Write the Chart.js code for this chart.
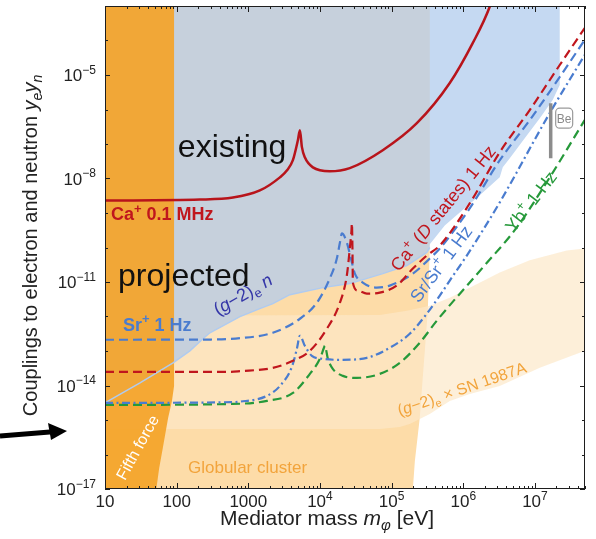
<!DOCTYPE html>
<html>
<head>
<meta charset="utf-8">
<script src="https://cdn.jsdelivr.net/npm/chart.js@4.4.1/dist/chart.umd.min.js"></script>
<style>
  html, body { margin: 0; padding: 0; background: #fff; }
  canvas { display: block; }
</style>
</head>
<body>
<canvas id="myChart" width="596" height="539"></canvas>
<script>
// axis ticks
const xTickValues = [10, 100, 1000, 1e4, 1e5, 1e6, 1e7];
const xTickLabels = ["10", "100", "1000", "10^{4}", "10^{5}", "10^{6}", "10^{7}"];
const yTickValues = [1e-17, 1e-14, 1e-11, 1e-8, 1e-5];
const yTickLabels = ["10^{−17}", "10^{−14}", "10^{−11}", "10^{−8}", "10^{−5}"];

// curves: [mediator mass (eV), coupling]
const caMHz = [[10, 2.3e-9], [211, 2.45e-9], [610, 2.8e-9], [1450, 4.5e-9], [2760, 1.08e-8], [3450, 1.7e-8],
  [4190, 3.4e-8], [4920, 1.29e-7], [5250, 2.5e-7], [5600, 8.1e-8], [6150, 4.1e-8], [7960, 2.1e-8],
  [1.37e4, 1.62e-8], [2.61e4, 2.0e-8], [7.53e4, 6.6e-8], [2.25e5, 4.0e-7], [6.48e5, 5.85e-6],
  [1.36e6, 8.5e-5], [2.34e6, 9.5e-4], [2.7e6, 2.5e-3]];
const srIon = [[10, 2.12e-13], [300, 2.15e-13], [764, 2.35e-13], [2200, 3.38e-13], [5250, 8.6e-13],
  [9060, 2.52e-12], [1.37e4, 1.26e-11], [1.72e4, 4.79e-11], [1.9e4, 1.4e-10], [2.02e4, 2.55e-10],
  [2.37e4, 1.4e-10], [2.79e4, 3.66e-11], [3.07e4, 1.75e-11], [3.96e4, 9.6e-12], [6.22e4, 6.87e-12],
  [9.44e4, 7.86e-12], [1.98e5, 1.75e-11], [3.41e5, 4.79e-11], [4.7e5, 9.35e-11], [1.23e6, 1.36e-9],
  [3.23e6, 3.38e-8], [8.46e6, 4.9e-7], [2.22e7, 8.75e-6], [4.95e7, 1.04e-4]];
const caDStates = [[10, 2.49e-14], [553, 2.49e-14], [764, 2.6e-14], [2200, 3.25e-14], [4190, 5.19e-14],
  [7230, 1.01e-13], [1.25e4, 4.42e-13], [1.9e4, 2.52e-12], [2.37e4, 1.53e-11], [2.61e4, 9.35e-11],
  [2.75e4, 3.0e-10], [2.79e4, 5.0e-10], [2.84e4, 1.0e-10], [2.88e4, 9.6e-12], [3.38e4, 5.62e-12],
  [4.51e4, 4.6e-12], [6.84e4, 4.92e-12], [1.18e5, 7.86e-12], [1.98e5, 2.45e-11], [3.1e5, 5.85e-11],
  [4.7e5, 1.14e-10], [1.23e6, 1.9e-9], [3.23e6, 5.78e-8], [8.46e6, 9.6e-7], [2.22e7, 1.95e-5], [4.95e7, 2.3e-4]];
const srSrIon = [[10, 3.12e-15], [610, 3.3e-15], [764, 3.4e-15], [1820, 5.0e-15], [2760, 9.7e-15],
  [4060, 3.48e-14], [4760, 1.16e-13], [5250, 2.77e-13], [6150, 1.42e-13], [7710, 7.25e-14],
  [1.1e4, 5.93e-14], [1.9e4, 5.55e-14], [4.51e4, 6.34e-14], [9.44e4, 1.24e-13], [1.79e5, 3.16e-13],
  [3.1e5, 1.21e-12], [4.7e5, 4.03e-12], [6.48e5, 1.1e-11], [1.12e6, 5.85e-11], [1.87e6, 3.12e-10],
  [3.23e6, 2.03e-9], [5.58e6, 1.51e-8], [9.31e6, 1.05e-7], [1.61e7, 7.9e-7], [4.95e7, 3.81e-5]];
const ybIon = [[10, 2.73e-15], [610, 2.92e-15], [1820, 3.57e-15], [4190, 6.09e-15], [7230, 2.17e-14],
  [9980, 5.93e-14], [1.13e4, 1.2e-13], [1.17e4, 1.42e-13], [1.29e4, 5.93e-14], [1.51e4, 3.04e-14],
  [2.09e4, 1.9e-14], [3.27e4, 1.66e-14], [6.84e4, 2.17e-14], [1.3e5, 4.54e-14], [2.47e5, 1.73e-13],
  [4.27e5, 7.55e-13], [1.87e6, 2.62e-11], [5.58e6, 3.81e-10], [1.61e7, 1.08e-8], [4.95e7, 4.9e-7]];
const beBar = [[1.66e7, 1.53e-6], [1.66e7, 3.87e-8]];

// shaded regions
const existingBoundary = [[10, 3.12e-15], [30.8, 1.19e-14], [89, 4.54e-14], [153, 1.01e-13], [233, 2.26e-13],
  [291, 3.38e-13], [764, 9.9e-13], [1450, 1.69e-12], [2200, 2.36e-12], [3800, 4.3e-12], [1.1e4, 6.87e-12],
  [2.61e4, 8.98e-12], [7.53e4, 1.75e-11], [1.63e5, 3.0e-11], [3.1e5, 7.2e-11], [3.41e5, 1.0e-10]];
const lightBlueBoundary = [[2.9e5, 8.2e-11], [3.76e5, 1.6e-10], [5.52e5, 4.37e-10], [8.93e5, 1.04e-9],
  [1.7e6, 3.25e-9], [3.23e6, 1.08e-8], [3.56e6, 2.12e-8], [4.46e6, 3.87e-8], [7.21e6, 1.48e-7],
  [1.17e7, 5.6e-7], [1.77e7, 1.87e-6], [2.22e7, 5.12e-6]];
const globularRightEdge = [[3.2e5, 1.48e-12], [2.47e5, 1.14e-15], [2.11e5, 6.4e-17], [1.98e5, 1e-17]];
const snBandTop = [[10, 1.05e-12], [6.84e4, 1.1e-12], [1.63e5, 1.48e-12], [3.41e5, 2.06e-12], [6.48e5, 3.52e-12],
  [1.23e6, 6.87e-12], [3.23e6, 1.88e-11], [8.46e6, 4.3e-11], [2.78e7, 8.2e-11], [5e7, 9.35e-11]];
const snBandBottom = [[10, 5.47e-16], [6.84e4, 5.47e-16], [1.3e5, 6.27e-16], [1.79e5, 7.65e-16], [2.47e5, 1.07e-15],
  [3.41e5, 1.49e-15], [6.48e5, 3.57e-15], [1.23e6, 5.7e-15], [3.23e6, 9.7e-15], [1.17e7, 3.25e-14], [5e7, 1.01e-13]];
const fifthForceEdge = [[92, 1e-3], [92, 9.7e-15], [86, 3.57e-15], [76, 1.14e-15], [64, 1.53e-16], [57, 4e-17], [52, 1e-17]];

const X_MIN = 10, X_MAX = 5e7, Y_MIN = 1e-17, Y_MAX = 1e-3;

const red = "#c0161d";
const blue = "#4a7ccf";
const green = "#26993a";
const orange = "#f2a43c";
const FONT = '"Liberation Sans", Arial, Helvetica, sans-serif';

const annotations = [
  { text: "existing", at: [104, 4.13e-8], size: 32, color: "#111" },
  { text: "projected", at: [15.2, 7.86e-12], size: 32, color: "#111" },
  { text: "Ca^{+} 0.1 MHz", at: [12.1, 6.1e-10], size: 18, weight: "bold", color: red },
  { text: "Sr^{+} 1 Hz", at: [17.8, 3.87e-13], size: 18, weight: "bold", color: blue },
  { text: "(*g*−2)_{e} *n*", at: [377, 1.05e-12], size: 18, color: "#3436a8", angle: -30 },
  { text: "Ca^{+} (*D* states) 1 Hz", at: [1.26e5, 1.9e-11], size: 18, color: red, angle: -51 },
  { text: "Sr/Sr^{+} 1 Hz", at: [2.39e5, 2.36e-12], size: 18, color: blue, angle: -53 },
  { text: "Yb^{+} 1 Hz", at: [5.06e6, 2.55e-10], size: 18, color: green, angle: -52 },
  { text: "(*g*−2)_{e} × SN 1987A", at: [1.3e5, 1.31e-15], size: 16, color: orange, angle: -19 },
  { text: "Globular cluster", at: [144, 2.88e-17], size: 17, color: orange },
  { text: "Fifth force", at: [19, 1.69e-17], size: 16, color: "#fff", angle: -61 },
];

const toPoints = (pairs) => pairs.map(([x, y]) => ({ x, y }));

function curve(label, pairs, color, dash, width) {
  return {
    label, data: toPoints(pairs), borderColor: color, borderWidth: width, borderDash: dash,
    fill: false, pointRadius: 0, cubicInterpolationMode: "monotone", order: 1,
  };
}

function region(label, pairs, color, order) {
  return {
    label, data: toPoints(pairs), backgroundColor: color, borderColor: "transparent",
    borderWidth: 0, fill: "shape", pointRadius: 0, tension: 0, order,
  };
}

const existingPoly = [[X_MIN, Y_MAX], [existingBoundary.at(-1)[0], Y_MAX], ...[...existingBoundary].reverse()];
const lightBluePoly = [[lightBlueBoundary[0][0], Y_MAX], ...lightBlueBoundary, [lightBlueBoundary.at(-1)[0], Y_MAX]];
const globularPoly = [...existingBoundary, ...globularRightEdge, [X_MIN, Y_MIN]];
const snPoly = [...snBandTop, ...[...snBandBottom].reverse()];
const fifthPoly = [[X_MIN, Y_MAX], ...fifthForceEdge, [X_MIN, Y_MIN]];

// text with ^{sup}, _{sub} and *italic*
function parseRich(str) {
  const runs = [];
  let buf = "", italic = false, i = 0;
  const flush = () => { if (buf) runs.push({ t: buf, k: "", i: italic }); buf = ""; };
  while (i < str.length) {
    const c = str[i];
    if ((c === "^" || c === "_") && str[i + 1] === "{") {
      flush();
      const end = str.indexOf("}", i);
      runs.push({ t: str.slice(i + 2, end), k: c === "^" ? "sup" : "sub", i: italic });
      i = end + 1;
    } else if (c === "*") {
      flush(); italic = !italic; i++;
    } else {
      buf += c; i++;
    }
  }
  flush();
  return runs;
}

function drawRich(ctx, str, x, y, opt) {
  const runs = parseRich(str);
  const fontFor = (r) => {
    const small = r.k !== "";
    const s = small ? Math.round(opt.size * 0.7) : opt.size;
    return `${r.i ? "italic " : ""}${opt.weight || "normal"} ${s}px ${FONT}`;
  };
  let total = 0;
  runs.forEach((r) => { ctx.font = fontFor(r); r.w = ctx.measureText(r.t).width; total += r.w; });
  ctx.save();
  ctx.translate(x, y);
  if (opt.angle) ctx.rotate(opt.angle * Math.PI / 180);
  let cx = opt.align === "center" ? -total / 2 : opt.align === "right" ? -total : 0;
  ctx.fillStyle = opt.color || "#222";
  ctx.textAlign = "left";
  ctx.textBaseline = "alphabetic";
  runs.forEach((r) => {
    ctx.font = fontFor(r);
    const dy = r.k === "sup" ? -opt.size * 0.42 : r.k === "sub" ? opt.size * 0.25 : 0;
    ctx.fillText(r.t, cx, dy);
    cx += r.w;
  });
  ctx.restore();
}

const framePlugin = {
  id: "frameAndText",
  afterDatasetsDraw(chart) {
    const { ctx, chartArea: a, scales: { x, y } } = chart;

    // Be label box
    const bx = x.getPixelForValue(2.56e7), by = y.getPixelForValue(5.6e-7);
    ctx.save();
    ctx.strokeStyle = "#9a9a9a";
    ctx.fillStyle = "#fff";
    ctx.lineWidth = 1.2;
    ctx.beginPath();
    ctx.roundRect(bx - 8.5, by - 10, 17, 20, 4);
    ctx.fill();
    ctx.stroke();
    ctx.fillStyle = "#8a8a8a";
    ctx.font = `12px ${FONT}`;
    ctx.textAlign = "center";
    ctx.textBaseline = "middle";
    ctx.fillText("Be", bx, by + 1);
    ctx.restore();

    annotations.forEach((n) => {
      drawRich(ctx, n.text, x.getPixelForValue(n.at[0]), y.getPixelForValue(n.at[1]),
        { size: n.size, weight: n.weight, color: n.color, angle: n.angle });
    });

    // frame
    ctx.save();
    ctx.strokeStyle = "#1e1e1e";
    ctx.lineWidth = 1;
    ctx.strokeRect(a.left + 0.5, a.top + 0.5, a.right - a.left - 1, a.bottom - a.top - 1);

    const seg = (x1, y1, x2, y2) => { ctx.beginPath(); ctx.moveTo(x1, y1); ctx.lineTo(x2, y2); ctx.stroke(); };
    for (let d = 1; d <= 7; d++) {
      for (let m = 1; m <= 9; m++) {
        const v = m * Math.pow(10, d);
        if (v > X_MAX) break;
        const px = Math.round(x.getPixelForValue(v)) + 0.5;
        const len = m === 1 ? 6 : 3;
        seg(px, a.bottom, px, a.bottom - len);
        seg(px, a.top, px, a.top + len);
      }
    }
    for (let e = -17; e <= -3; e++) {
      const py = Math.round(y.getPixelForValue(Math.pow(10, e))) + 0.5;
      const len = (e + 17) % 3 === 0 ? 5 : 3;
      seg(a.left, py, a.left + len, py);
      seg(a.right, py, a.right - len, py);
    }
    ctx.restore();

    xTickValues.forEach((v, i) => {
      drawRich(ctx, xTickLabels[i], x.getPixelForValue(v), a.bottom + 18, { size: 17, align: "center", color: "#222" });
    });
    yTickValues.forEach((v, i) => {
      drawRich(ctx, yTickLabels[i], a.left - 9, y.getPixelForValue(v) + 6, { size: 17, align: "right", color: "#222" });
    });

    drawRich(ctx, "Mediator mass *m_{φ}* [eV]", (a.left + a.right) / 2 - 18, a.bottom + 36,
      { size: 21, align: "center", color: "#222" });
    drawRich(ctx, "Couplings to electron and neutron *y_{e}y_{n}*", 37, (a.top + a.bottom) / 2 - 2,
      { size: 20, align: "center", color: "#222", angle: -90 });

    // pointer arrow at the left
    const ay = y.getPixelForValue(4.8e-16);
    const tipX = a.left - 38;
    ctx.save();
    ctx.fillStyle = "#000";
    ctx.strokeStyle = "#000";
    ctx.lineWidth = 5;
    seg(0, ay + 5, tipX - 14, ay + 0.8);
    ctx.beginPath();
    ctx.moveTo(tipX, ay);
    ctx.lineTo(tipX - 19, ay - 8);
    ctx.lineTo(tipX - 16, ay + 9);
    ctx.closePath();
    ctx.fill();
    ctx.restore();
  },
};

new Chart(document.getElementById("myChart"), {
  type: "line",
  data: {
    datasets: [
      { label: "Be", data: toPoints(beBar), borderColor: "#8c8c8c", borderWidth: 3.5, pointRadius: 0, fill: false, order: 0 },
      curve("Ca+ 0.1 MHz", caMHz, "#b8141b", [], 2.5),
      curve("Ca+ (D states) 1 Hz", caDStates, red, [9, 5], 2.2),
      curve("Sr+ 1 Hz", srIon, blue, [9, 5], 2.2),
      curve("Sr/Sr+ 1 Hz", srSrIon, blue, [8, 3.5, 2, 3.5], 2.2),
      curve("Yb+ 1 Hz", ybIon, green, [9, 5], 2.2),
      { label: "edge", data: toPoints(existingBoundary), borderColor: "#b0cbef", borderWidth: 1.5,
        pointRadius: 0, fill: false, tension: 0, order: 2 },
      region("Fifth force", fifthPoly, "rgba(244, 163, 40, 0.92)", 3),
      region("existing", existingPoly, "#c6d0dc", 4),
      region("light blue", lightBluePoly, "#c5d9f2", 5),
      region("SN 1987A", snPoly, "rgba(252, 232, 200, 0.69)", 6),
      region("Globular cluster", globularPoly, "#fddca8", 7),
    ],
  },
  options: {
    responsive: false,
    animation: false,
    events: [],
    layout: { padding: { left: 105, right: 11, top: 6, bottom: 50 } },
    scales: {
      x: { type: "logarithmic", min: X_MIN, max: X_MAX, display: false },
      y: { type: "logarithmic", min: Y_MIN, max: Y_MAX, display: false },
    },
    plugins: { legend: { display: false }, tooltip: { enabled: false } },
  },
  plugins: [framePlugin],
});
</script>
</body>
</html>
